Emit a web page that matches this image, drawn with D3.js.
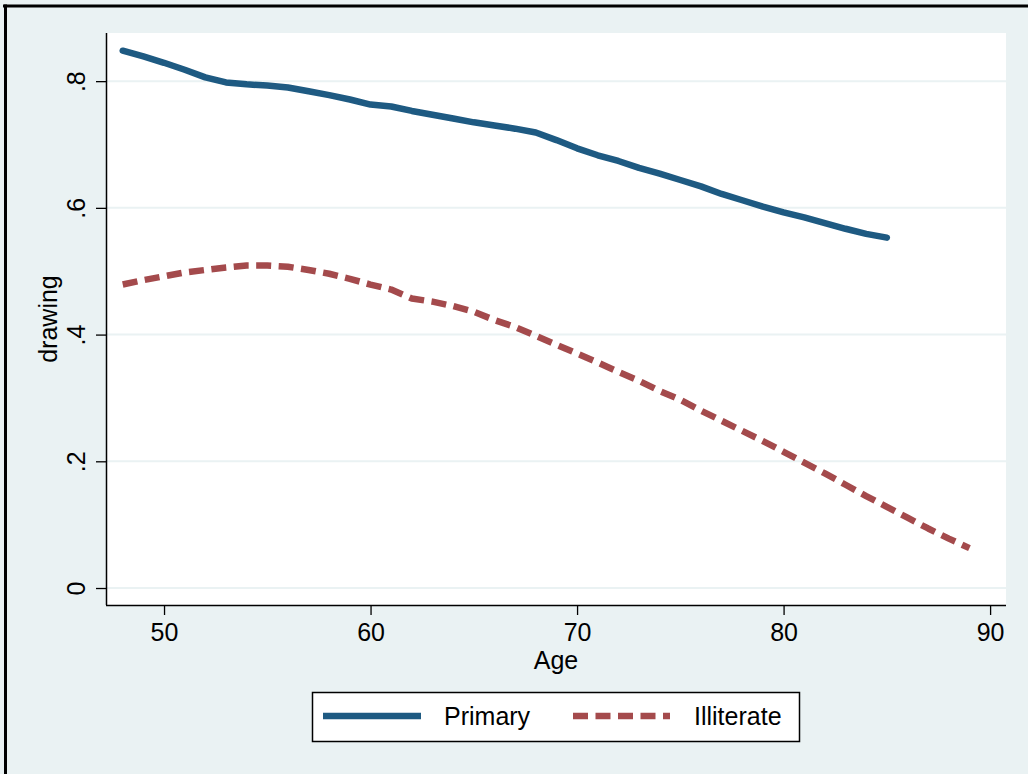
<!DOCTYPE html>
<html>
<head>
<meta charset="utf-8">
<script src="https://cdn.jsdelivr.net/npm/d3@7"></script>
<style>
  html, body { margin: 0; padding: 0; background: #eaf2f3; }
  svg { display: block; font-family: "Liberation Sans", Arial, Helvetica, sans-serif; }
</style>
</head>
<body>
<svg id="chart" width="1028" height="774"></svg>
<script>
// ---- Data ----
const primaryAges = [48,49,50,51,52,53,54,55,56,57,58,59,60,61,62,63,64,65,66,67,68,69,70,71,72,73,74,75,76,77,78,79,80,81,82,83,84,85];
const primaryValues = [0.848,0.839,0.829,0.818,0.806,0.798,0.795,0.793,0.790,0.784,0.778,0.771,0.763,0.760,0.753,0.747,0.741,0.735,0.730,0.725,0.719,0.707,0.694,0.683,0.674,0.663,0.654,0.644,0.634,0.622,0.612,0.602,0.593,0.585,0.576,0.567,0.559,0.553];

const illiterateAges = [48,49,50,51,52,53,54,55,56,57,58,59,60,61,62,63,64,65,66,67,68,69,70,71,72,73,74,75,76,77,78,79,80,81,82,83,84,85,86,87,88,89];
const illiterateValues = [0.479,0.486,0.492,0.498,0.502,0.506,0.509,0.509,0.507,0.502,0.496,0.488,0.479,0.471,0.457,0.452,0.445,0.436,0.423,0.412,0.398,0.384,0.370,0.356,0.341,0.327,0.311,0.297,0.280,0.264,0.248,0.232,0.215,0.198,0.181,0.163,0.145,0.128,0.111,0.094,0.078,0.063];

const xTicks = [50, 60, 70, 80, 90];
const yTicks = [0, 0.2, 0.4, 0.6, 0.8];
const yTickLabels = ["0", ".2", ".4", ".6", ".8"];
const seriesNames = ["Primary", "Illiterate"];
const xTitle = "Age";
const yTitle = "drawing";

// ---- Layout ----
const svg = d3.select("#chart");
const plot = { left: 106, right: 1006, top: 33, bottom: 605 };
const colors = { Primary: "#1e5a82", Illiterate: "#a44a4c" };
const bg = "#eaf2f3";

const x = d3.scaleLinear().domain([47.19, 90.77]).range([plot.left, plot.right]);
const y = d3.scaleLinear().domain([-0.0268, 0.876]).range([plot.bottom, plot.top]);

// outer background + frame
svg.append("rect").attr("x", 0).attr("y", 0).attr("width", 1028).attr("height", 774).attr("fill", bg);
svg.append("line").attr("x1", 3).attr("x2", 1028).attr("y1", 6).attr("y2", 6).attr("stroke", "#000").attr("stroke-width", 3);
svg.append("line").attr("x1", 5.5).attr("x2", 5.5).attr("y1", 4.5).attr("y2", 774).attr("stroke", "#000").attr("stroke-width", 3);

// plot region
svg.append("rect")
  .attr("x", plot.left).attr("y", plot.top)
  .attr("width", plot.right - plot.left).attr("height", plot.bottom - plot.top)
  .attr("fill", "#fff");

// gridlines
svg.append("g").selectAll("line").data(yTicks).join("line")
  .attr("x1", plot.left).attr("x2", plot.right)
  .attr("y1", d => y(d)).attr("y2", d => y(d))
  .attr("stroke", bg).attr("stroke-width", 2);

// y axis
const yAxis = d3.axisLeft(y).tickValues(yTicks).tickSize(10).tickPadding(0)
  .tickFormat((d, i) => yTickLabels[i]);
const gy = svg.append("g").attr("transform", `translate(${plot.left},0)`).call(yAxis);
gy.select(".domain").attr("stroke", "#000").attr("stroke-width", 1.5)
  .attr("d", `M0.5,${plot.top}V${plot.bottom}`);
gy.selectAll(".tick line").attr("stroke", "#000").attr("stroke-width", 1.3);
gy.selectAll(".tick text")
  .attr("x", 0).attr("dy", null).attr("y", 0)
  .attr("transform", "translate(-21,0) rotate(-90)")
  .attr("text-anchor", "middle")
  .attr("font-size", 25).attr("fill", "#000")
  .attr("font-family", "'Liberation Sans', Arial, sans-serif");

// x axis
const xAxis = d3.axisBottom(x).tickValues(xTicks).tickSize(10).tickPadding(0).tickFormat(d3.format("d"));
const gx = svg.append("g").attr("transform", `translate(0,${plot.bottom})`).call(xAxis);
gx.select(".domain").attr("stroke", "#000").attr("stroke-width", 1.5)
  .attr("d", `M${plot.left},0.5H${plot.right}`);
gx.selectAll(".tick line").attr("stroke", "#000").attr("stroke-width", 1.3);
gx.selectAll(".tick text")
  .attr("y", 36).attr("dy", null)
  .attr("font-size", 25).attr("fill", "#000")
  .attr("font-family", "'Liberation Sans', Arial, sans-serif");

// axis titles
svg.append("text").attr("x", (plot.left + plot.right) / 2).attr("y", 669)
  .attr("text-anchor", "middle").attr("font-size", 25).text(xTitle);
svg.append("text").attr("transform", `translate(57,${(plot.top + plot.bottom) / 2}) rotate(-90)`)
  .attr("text-anchor", "middle").attr("font-size", 25).text(yTitle);

// lines
const line = d3.line().x(d => x(d[0])).y(d => y(d[1]));
const primaryData = primaryAges.map((a, i) => [a, primaryValues[i]]);
const illiterateData = illiterateAges.map((a, i) => [a, illiterateValues[i]]);

svg.append("path").datum(illiterateData)
  .attr("d", line).attr("fill", "none")
  .attr("stroke", colors.Illiterate).attr("stroke-width", 6.5)
  .attr("stroke-dasharray", "15,7.5").attr("stroke-linejoin", "round");

svg.append("path").datum(primaryData)
  .attr("d", line).attr("fill", "none")
  .attr("stroke", colors.Primary).attr("stroke-width", 6.5)
  .attr("stroke-linecap", "round").attr("stroke-linejoin", "round");

// legend
const lg = svg.append("g");
lg.append("rect").attr("x", 312.5).attr("y", 692.5).attr("width", 487).attr("height", 49)
  .attr("fill", "#fff").attr("stroke", "#000").attr("stroke-width", 1.5);
lg.append("line").attr("x1", 323).attr("x2", 421).attr("y1", 716).attr("y2", 716)
  .attr("stroke", colors.Primary).attr("stroke-width", 6.5);
lg.append("text").attr("x", 444).attr("y", 725).attr("font-size", 25).text(seriesNames[0]);
lg.append("line").attr("x1", 573).attr("x2", 670).attr("y1", 716).attr("y2", 716)
  .attr("stroke", colors.Illiterate).attr("stroke-width", 6.5).attr("stroke-dasharray", "15,7.5");
lg.append("text").attr("x", 694).attr("y", 725).attr("font-size", 25).text(seriesNames[1]);
</script>
</body>
</html>
